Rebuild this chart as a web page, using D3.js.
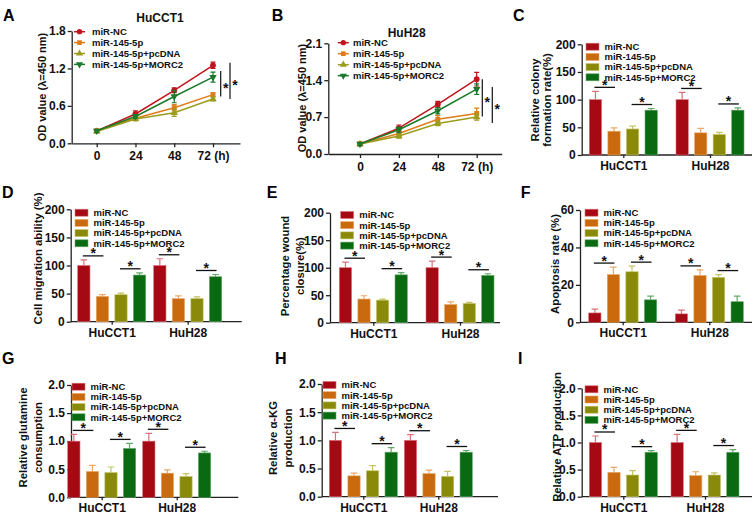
<!DOCTYPE html>
<html lang="en">
<head>
<meta charset="UTF-8">
<title>miR-145-5p / MORC2</title>
<script src="https://cdn.jsdelivr.net/npm/d3@7"></script>
<style>
  body { margin: 0; background: #fff; }
  svg { position: absolute; left: 0; top: 0; font-family: "Liberation Sans", Arial, sans-serif; font-weight: bold; }
  .axis path, .axis line { stroke: #222; stroke-width: 1.3; }
  .axis text { font-size: 12px; font-weight: bold; fill: #111; font-family: "Liberation Sans", Arial, sans-serif; }
</style>
</head>
<body>
<svg id="fig" width="752" height="513"></svg>
<script>
// ---- data ----
var groups = ["HuCCT1", "HuH28"];
var series = ["miR-NC", "miR-145-5p", "miR-145-5p+pcDNA", "miR-145-5p+MORC2"];
var hours = [0, 24, 48, 72];
var hourLabels = ["0", "24", "48", "72 (h)"];

// CCK-8 OD values, one row per series, one column per time point
var odHuCCT1 = [[0.20, 0.47, 0.85, 1.25], [0.20, 0.40, 0.57, 0.78], [0.19, 0.39, 0.49, 0.71], [0.20, 0.43, 0.75, 1.06]];
var odHuCCT1Err = [[0.02, 0.05, 0.04, 0.05], [0.02, 0.03, 0.05, 0.03], [0.02, 0.03, 0.06, 0.03], [0.02, 0.03, 0.10, 0.08]];
var odHuH28 = [[0.19, 0.49, 0.94, 1.42], [0.19, 0.39, 0.66, 0.77], [0.19, 0.34, 0.58, 0.70], [0.19, 0.46, 0.82, 1.23]];
var odHuH28Err = [[0.02, 0.06, 0.06, 0.13], [0.02, 0.05, 0.07, 0.10], [0.02, 0.04, 0.04, 0.06], [0.02, 0.05, 0.06, 0.10]];
var bracketsA = [[0.75, 1.16], [0.71, 1.29]];
var bracketsB = [[0.71, 1.42], [0.59, 1.27]];

// bar panels: one row per cell line, one column per series
var colonyMean = [[100, 43, 47, 81], [100, 40, 37, 81]];
var colonyErr = [[15, 6, 5, 3], [13, 8, 4, 4]];
var migrationMean = [[100, 45, 48, 83], [100, 41, 41, 80]];
var migrationErr = [[10, 3, 3, 4], [12, 5, 3, 4]];
var woundMean = [[100, 43, 41, 87], [100, 33, 35, 86]];
var woundErr = [[10, 6, 2, 4], [12, 5, 2, 3]];
var apoptosisMean = [[5, 25.5, 27, 12], [4.5, 25, 24, 11]];
var apoptosisErr = [[2, 4, 3, 2], [2, 3, 1.5, 3]];
var glutamineMean = [[1.0, 0.46, 0.44, 0.87], [1.0, 0.43, 0.37, 0.79]];
var glutamineErr = [[0.12, 0.11, 0.10, 0.09], [0.14, 0.06, 0.05, 0.03]];
var akgMean = [[1.0, 0.37, 0.46, 0.79], [1.0, 0.41, 0.36, 0.79]];
var akgErr = [[0.14, 0.05, 0.09, 0.08], [0.10, 0.06, 0.09, 0.03]];
var atpMean = [[1.0, 0.45, 0.40, 0.82], [1.0, 0.39, 0.40, 0.82]];
var atpErr = [[0.12, 0.09, 0.08, 0.03], [0.15, 0.07, 0.04, 0.05]];

var odTicksA = [0, 0.6, 1.2, 1.8];
var odTicksB = [0, 0.7, 1.4, 2.1];
var pctTicks = [0, 50, 100, 150, 200];
var apoTicks = [0, 20, 40, 60];
var relTicks = [0, 0.5, 1.0, 1.5, 2.0];

// ---- styles ----
var lineColors = ["#c0141c", "#e07b1a", "#9c9c1c", "#1a7a2a"];
var barFill = ["#a50a14", "#c96a0e", "#8a8a0a", "#0a6a12"];
var barEdge = ["#d9707a", "#e8a868", "#c4c466", "#62a868"];

var svg = d3.select("#fig");

function panelLabel(t, x, y) {
  svg.append("text").attr("x", x).attr("y", y).attr("font-size", 16).attr("fill", "#000").text(t);
}

function yTitle(lines, xs, cy, size) {
  lines.forEach(function(s, i) {
    svg.append("text")
      .attr("transform", "translate(" + xs[i] + "," + cy + ") rotate(-90)")
      .attr("text-anchor", "middle").attr("dy", "0.35em")
      .attr("font-size", size || 11.3).attr("fill", "#111").text(s);
  });
}

function star(x, y) {
  svg.append("text").attr("x", x).attr("y", y).attr("text-anchor", "middle")
    .attr("font-size", 14).attr("fill", "#111").text("*");
}

function yAxis(p, y, fmt) {
  svg.append("g").attr("class", "axis").attr("transform", "translate(" + p.x0 + ",0)")
    .call(d3.axisLeft(y).tickValues(p.ticks).tickFormat(fmt).tickSize(4).tickPadding(2).tickSizeOuter(0));
}

// ---- line panels (A, B) ----
function linePanel(p) {
  panelLabel(p.label, p.lx, p.ly);
  var y = d3.scaleLinear().domain([0, p.max]).range([p.yBot, p.yTop]);
  var k = (p.x72 - p.xZero) / 72;
  var x = d3.scaleLinear().domain([(p.x0 - p.xZero) / k, (p.x1 - p.xZero) / k]).range([p.x0, p.x1]);

  svg.append("g").attr("class", "axis").attr("transform", "translate(0," + p.yBot + ")")
    .call(d3.axisBottom(x).tickValues(hours).tickFormat(function(d, i) { return hourLabels[i]; })
      .tickSize(4).tickPadding(4.5).tickSizeOuter(0));
  yAxis(p, y, d3.format(".1f"));

  svg.append("text").attr("x", p.titleX).attr("y", p.titleY).attr("text-anchor", "middle")
    .attr("font-size", 12).attr("fill", "#111").text(p.title);
  yTitle(["OD value (\u03bb=450 nm)"], [p.ytx], p.yty, 11);

  var line = d3.line().x(function(d, i) { return x(hours[i]); }).y(function(d) { return y(d); });
  var symbols = [d3.symbolCircle, d3.symbolSquare, d3.symbolTriangle, d3.symbolTriangle];

  p.values.forEach(function(vals, s) {
    var c = lineColors[s];
    var g = svg.append("g");
    vals.forEach(function(v, i) {
      var e = p.errs[s][i], cx = x(hours[i]);
      g.append("path").attr("fill", "none").attr("stroke", c).attr("stroke-width", 1.2)
        .attr("d", "M" + (cx - 2.5) + "," + y(v + e) + "H" + (cx + 2.5) + "M" + cx + "," + y(v + e) +
          "V" + y(v - e) + "M" + (cx - 2.5) + "," + y(v - e) + "H" + (cx + 2.5));
    });
    g.append("path").attr("d", line(vals)).attr("fill", "none").attr("stroke", c).attr("stroke-width", 1.5);
    vals.forEach(function(v, i) {
      g.append("path").attr("d", d3.symbol().type(symbols[s]).size(s === 0 ? 26 : 24)())
        .attr("transform", "translate(" + x(hours[i]) + "," + y(v) + ")" + (s === 3 ? " rotate(180)" : ""))
        .attr("fill", c);
    });

    // legend
    var ly = p.legY + s * p.legStep;
    svg.append("line").attr("x1", p.legX - 5.5).attr("x2", p.legX + 5.5).attr("y1", ly).attr("y2", ly)
      .attr("stroke", c).attr("stroke-width", 1.5);
    svg.append("path").attr("d", d3.symbol().type(symbols[s]).size(22)())
      .attr("transform", "translate(" + p.legX + "," + ly + ")" + (s === 3 ? " rotate(180)" : "")).attr("fill", c);
    svg.append("text").attr("x", p.legText).attr("y", ly).attr("dy", "0.35em")
      .attr("font-size", 9.5).attr("fill", "#111").text(series[s]);
  });

  p.brackets.forEach(function(b, i) {
    var bx = x(72) + p.brX[i];
    svg.append("line").attr("x1", bx).attr("x2", bx).attr("y1", y(b[1])).attr("y2", y(b[0]))
      .attr("stroke", "#111").attr("stroke-width", 1.2);
    star(bx + 5, (y(b[0]) + y(b[1])) / 2 + 9);
  });
}

// ---- bar panels (C..I) ----
function barPanel(p) {
  panelLabel(p.label, p.lx, p.ly);
  var y = d3.scaleLinear().domain([0, p.max]).range([p.yBot, p.yTop]);
  var x0 = d3.scalePoint().domain(groups).range(p.c);
  var x1 = d3.scaleBand().domain(series).range([-34, 34]).paddingInner(0.339);

  var xa = svg.append("g").attr("class", "axis").attr("transform", "translate(0," + p.yBot + ")")
    .call(d3.axisBottom(x0).tickSize(3).tickPadding(3.5).tickSizeOuter(0));
  xa.select(".domain").attr("d", "M" + p.x0 + ",0H" + p.x1);
  yAxis(p, y, p.fmt);
  yTitle(p.title, p.tx, p.ty);

  groups.forEach(function(gname, gi) {
    var gx = x0(gname);
    series.forEach(function(sname, s) {
      var v = p.mean[gi][s], e = p.err[gi][s];
      var bx = gx + x1(sname), bw = x1.bandwidth(), cx = bx + bw / 2;
      svg.append("path").attr("fill", "none").attr("stroke", barEdge[s]).attr("stroke-width", 1.2)
        .attr("d", "M" + cx + "," + y(v) + "V" + y(v + e) + "M" + (cx - 3.3) + "," + y(v + e) + "H" + (cx + 3.3));
      svg.append("rect").attr("x", bx).attr("y", y(v)).attr("width", bw).attr("height", y(0) - y(v))
        .attr("fill", barFill[s]).attr("stroke", barEdge[s]).attr("stroke-width", 0.6);
    });
    // significance bars: NC vs 145-5p and pcDNA vs MORC2
    [[0, 1], [2, 3]].forEach(function(pair) {
      var a = gx + x1(series[pair[0]]) + x1.bandwidth() / 2;
      var b = gx + x1(series[pair[1]]) + x1.bandwidth() / 2;
      var top = Math.min(y(p.mean[gi][pair[0]] + p.err[gi][pair[0]]), y(p.mean[gi][pair[1]] + p.err[gi][pair[1]]));
      var ly = top - 4;
      svg.append("line").attr("x1", a - 1).attr("x2", b + 1).attr("y1", ly).attr("y2", ly)
        .attr("stroke", "#111").attr("stroke-width", 1.3);
      star((a + b) / 2, ly + 2.5);
    });
  });

  series.forEach(function(sname, s) {
    var ly = p.legY + s * 10.2;
    svg.append("rect").attr("x", p.legX).attr("y", ly - 3.5).attr("width", 13).attr("height", 7)
      .attr("fill", barFill[s]).attr("stroke", barEdge[s]).attr("stroke-width", 0.6);
    svg.append("text").attr("x", p.legX + 18.5).attr("y", ly).attr("dy", "0.35em")
      .attr("font-size", 9.5).attr("fill", "#111").text(sname);
  });
}

var f1 = d3.format(".1f"), f0 = function(d) { return d; };

linePanel({ label: "A", lx: 3, ly: 21, x0: 71.7, x1: 240, xZero: 96.7, x72: 213, yTop: 31, yBot: 143.3,
  max: 1.8, ticks: odTicksA, title: "HuCCT1", titleX: 160, titleY: 22, ytx: 42, yty: 87,
  values: odHuCCT1, errs: odHuCCT1Err, legX: 79.5, legY: 31.7, legStep: 10.9, legText: 92,
  brackets: bracketsA, brX: [7.7, 17] });
linePanel({ label: "B", lx: 271.7, ly: 21, x0: 328.3, x1: 501.7, xZero: 360, x72: 476.7, yTop: 43.3, yBot: 154,
  max: 2.1, ticks: odTicksB, title: "HuH28", titleX: 406.7, titleY: 37, ytx: 302.5, yty: 98,
  values: odHuH28, errs: odHuH28Err, legX: 343.3, legY: 42.7, legStep: 11, legText: 353,
  brackets: bracketsB, brX: [5.6, 15.6] });

barPanel({ label: "C", lx: 513, ly: 21, x0: 581.7, x1: 752, c: [623.3, 710], yTop: 44.3, yBot: 155, max: 200,
  ticks: pctTicks, fmt: f0, title: ["Relative colony", "formation rate(%)"], tx: [535, 547], ty: 100,
  legX: 586, legY: 46.7, mean: colonyMean, err: colonyErr });
barPanel({ label: "D", lx: 2, ly: 198, x0: 70.7, x1: 241.7, c: [111.7, 187.7], yTop: 209.3, yBot: 321.7, max: 200,
  ticks: pctTicks, fmt: f0, title: ["Cell migration ability (%)"], tx: [38], ty: 258.5,
  legX: 75, legY: 212.7, mean: migrationMean, err: migrationErr });
barPanel({ label: "E", lx: 266.7, ly: 198, x0: 330, x1: 500, c: [373.3, 460], yTop: 212.7, yBot: 322.7, max: 200,
  ticks: pctTicks, fmt: f0, title: ["Percentage wound", "closure(%)"], tx: [285, 300], ty: 266,
  legX: 340.7, legY: 215, mean: woundMean, err: woundErr });
barPanel({ label: "F", lx: 520.7, ly: 198, x0: 580, x1: 752, c: [622.7, 709.3], yTop: 210, yBot: 322.3, max: 60,
  ticks: apoTicks, fmt: f0, title: ["Apoptosis rate (%)"], tx: [555], ty: 264,
  legX: 585, legY: 212.7, mean: apoptosisMean, err: apoptosisErr });
barPanel({ label: "G", lx: 2, ly: 364, x0: 71, x1: 238.3, c: [101.7, 176.7], yTop: 385, yBot: 497.3, max: 2,
  ticks: relTicks, fmt: f1, title: ["Relative glutamine", "consumption"], tx: [23.3, 37.7], ty: 437.5,
  legX: 72, legY: 386.7, mean: glutamineMean, err: glutamineErr });
barPanel({ label: "H", lx: 275, ly: 364, x0: 321.7, x1: 498, c: [363.3, 438.3], yTop: 384, yBot: 496.7, max: 2,
  ticks: relTicks, fmt: f1, title: ["Relative \u03b1-KG", "production"], tx: [273.3, 288.3], ty: 438,
  legX: 323, legY: 385, mean: akgMean, err: akgErr });
barPanel({ label: "I", lx: 518, ly: 364, x0: 581.7, x1: 752, c: [623.3, 705], yTop: 388.3, yBot: 496.7, max: 2,
  ticks: relTicks, fmt: f1, title: ["Relative ATP production"], tx: [556.7], ty: 437,
  legX: 585, legY: 389.3, mean: atpMean, err: atpErr });
</script>
</body>
</html>
